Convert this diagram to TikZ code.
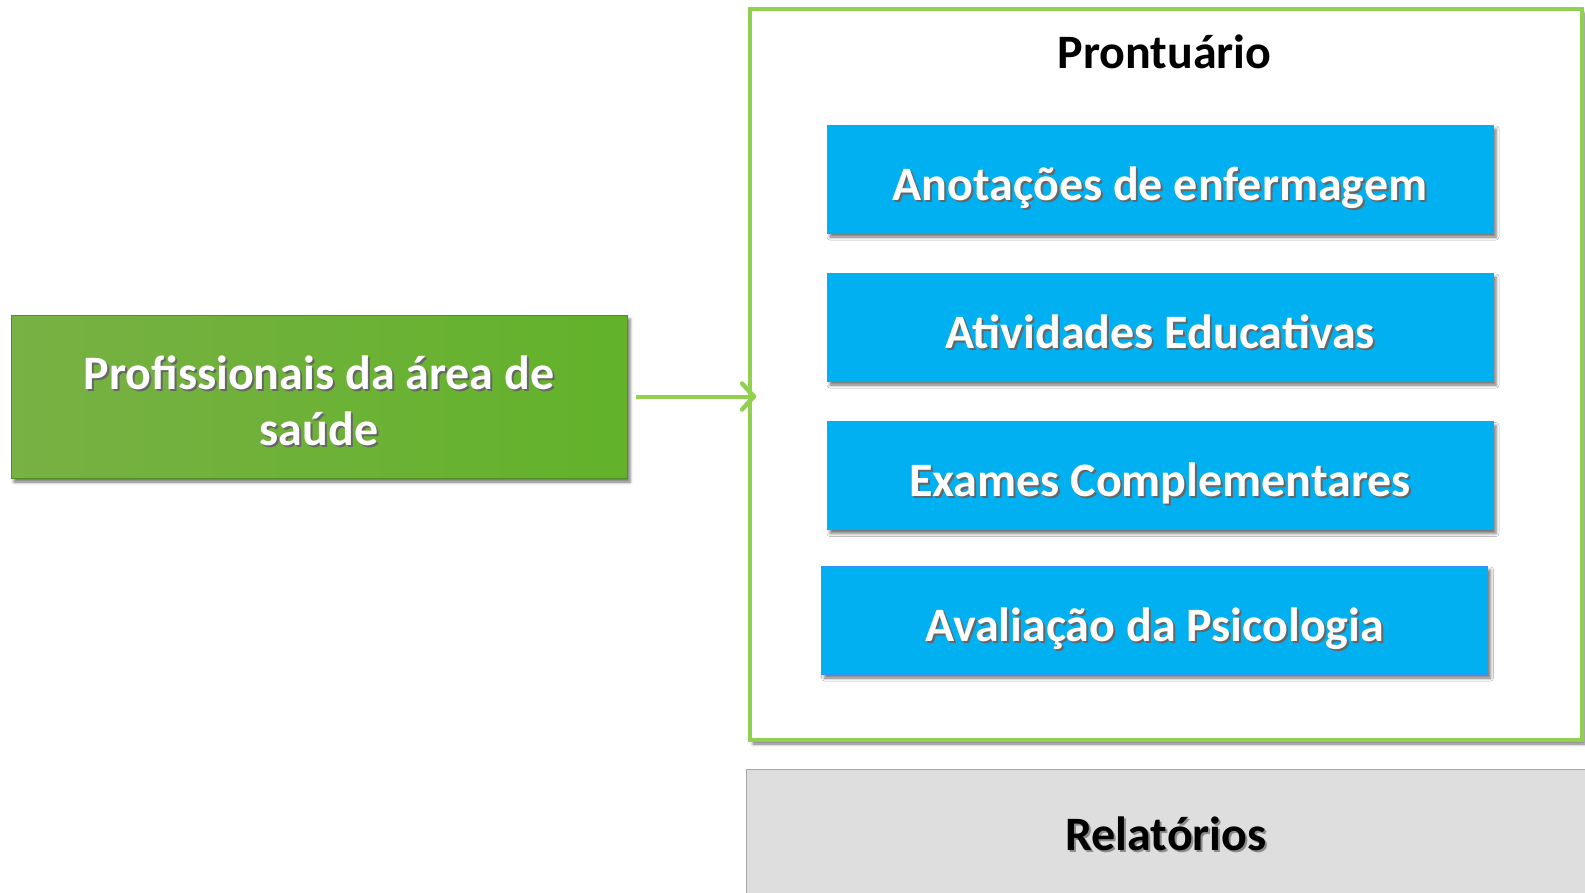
\documentclass[tikz,border=0pt]{standalone}
\usepackage{fontspec}
\setmainfont{Carlito}
\usetikzlibrary{shadows,shadows.blur,arrows.meta,calc}
\definecolor{lgreen}{HTML}{92D050}
\definecolor{gA}{HTML}{78B144}
\definecolor{gB}{HTML}{62B22A}
\definecolor{cyanbox}{HTML}{00B0F0}
\definecolor{relgray}{HTML}{DEDEDE}
\newcommand{\shtxt}[2][black!60]{\rlap{\kern2pt\raisebox{-2pt}{\textcolor{#1}{#2}}}#2}
\tikzset{
  x=1pt, y=1pt,
  boxshadow/.style={blur shadow={shadow xshift=3pt, shadow yshift=-4pt, shadow blur radius=3pt, shadow opacity=55}},
  bigfont/.style={font=\fontsize{48}{56}\selectfont\bfseries},
  greenbox/.style={draw=gB!80!black, line width=0.6pt, left color=gA, right color=gB, boxshadow,
     minimum width=616pt, minimum height=163pt, inner sep=0pt},
  greentxt/.style={bigfont, text=white, align=center, inner sep=0pt},
  bluebox/.style={draw=cyanbox!70!blue!80!white, line width=0.8pt, fill=cyanbox, boxshadow,
     minimum width=666pt, minimum height=108pt, inner sep=0pt,
     text height=42pt, text depth=0pt, bigfont, text=white},
  outerbox/.style={draw=lgreen, line width=3.5pt, fill=white, boxshadow,
     minimum width=832pt, minimum height=731pt, inner sep=0pt},
  relbox/.style={draw=black!35, line width=0.8pt, fill=relgray,
     minimum width=844pt, minimum height=131pt, inner sep=0pt},
  titletxt/.style={bigfont, text=black, anchor=base, inner sep=0pt},
  conntip/.tip={Straight Barb[length=12pt, width=26pt, line width'=4.5pt, round]},
}
\begin{document}
\begin{tikzpicture}
\useasboundingbox (0,0) rectangle (1585,-892);
\node[outerbox] (outer) at (1166,-374.5) {};
\node[titletxt] (title) at (1164.5,-68) {Prontuário};
\node[bluebox] (b1) at (1160,-179) {\shtxt{Anotações de enfermagem}};
\node[bluebox] (b2) at (1160,-327) {\shtxt{Atividades Educativas}};
\node[bluebox] (b3) at (1160,-475.5) {\shtxt{Exames Complementares}};
\node[bluebox] (b4) at (1154.5,-620) {\shtxt{Avaliação da Psicologia}};
\node[greenbox] (green) at (319,-396.5) {};
\node[greentxt] (gtext) at ($(green.center)+(0,-5)$) {\shtxt{Profissionais da área de}\\\shtxt{saúde}};
\node[relbox] (rel) at (1168,-834.5) {};
\node[titletxt] (reltxt) at (1166,-850) {\shtxt[black!45]{Relatórios}};
\coordinate (tip) at ($(green.east -| outer.west)+(8,0)$);
\draw[lgreen, line width=4pt, -conntip] ($(green.east)+(9,0)$) -- (tip);
\end{tikzpicture}
\end{document}
